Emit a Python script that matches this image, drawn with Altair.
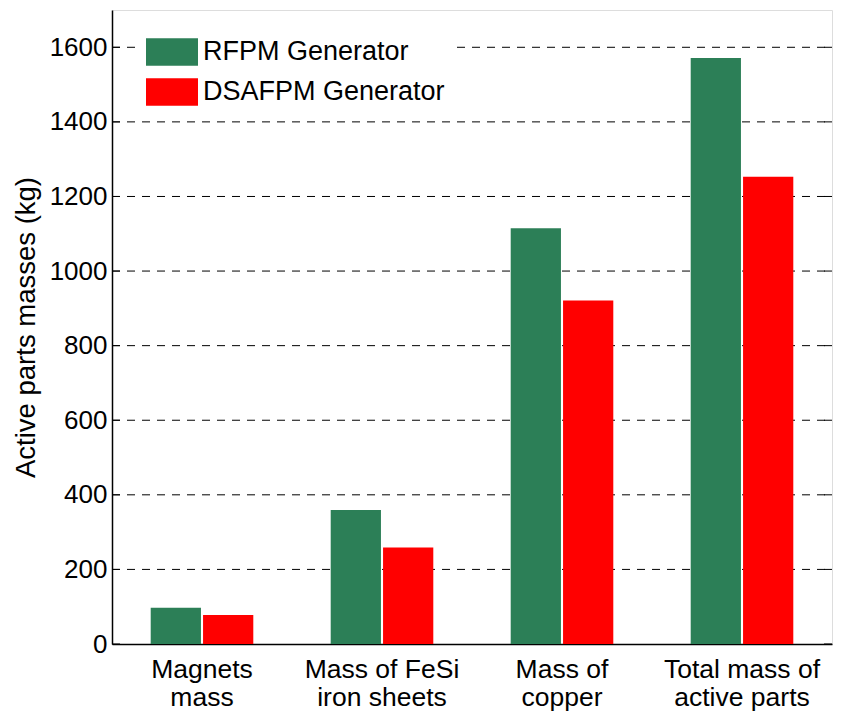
import altair as alt
import pandas as pd

categories = ["Magnets\nmass", "Mass of FeSi\niron sheets", "Mass of\ncopper", "Total mass of\nactive parts"]
series = ["RFPM Generator", "DSAFPM Generator"]
rfpm = [97, 359, 1115, 1571]
dsafpm = [78, 259, 921, 1253]
y_ticks = [0, 200, 400, 600, 800, 1000, 1200, 1400, 1600]
colors = ["#2C7F57", "#FF0000"]

rows = []
for c, a, b in zip(categories, rfpm, dsafpm):
    rows.append({"cat": c, "series": series[0], "val": a})
    rows.append({"cat": c, "series": series[1], "val": b})
df = pd.DataFrame(rows)
ticks_df = pd.DataFrame({"t": y_ticks})

FONT = "Liberation Sans"
W, H = 720, 634
yscale = alt.Scale(domain=[0, 1700], nice=False, zero=True)

bars = alt.Chart(df).mark_bar().encode(
    x=alt.X("cat:N", sort=categories,
            scale=alt.Scale(paddingInner=0.43, paddingOuter=0.215),
            axis=alt.Axis(title=None, labelExpr="split(datum.label, '\\n')",
                          labelAngle=0, labelFontSize=26.5, labelFont=FONT,
                          labelColor="#000", labelLineHeight=28, labelPadding=12,
                          ticks=False, domainColor="#000", domainWidth=1.5)),
    xOffset=alt.XOffset("series:N", sort=series,
                        scale=alt.Scale(paddingInner=0.04, paddingOuter=0)),
    y=alt.Y("val:Q", scale=yscale,
            axis=alt.Axis(title="Active parts masses (kg)", values=y_ticks, format="d",
                          labelFontSize=26, labelFont=FONT, labelColor="#000",
                          titleFontSize=27.5, titleFont=FONT, titleFontWeight="normal",
                          titleColor="#000", titlePadding=9,
                          labelPadding=5, ticks=False,
                          grid=False, domainColor="#000", domainWidth=1.5)),
    color=alt.Color("series:N", sort=series,
                    scale=alt.Scale(domain=series, range=colors),
                    legend=alt.Legend(title=None, orient="none", legendX=24, legendY=6,
                                      fillColor="#fff", padding=10,
                                      symbolType="M-1,-0.53H1V0.53H-1Z",
                                      symbolSize=2704, symbolStrokeWidth=0,
                                      symbolOpacity=1,
                                      labelFontSize=27, labelFont=FONT, labelColor="#000",
                                      labelOffset=5, rowPadding=-7, labelLimit=400)),
)

grid = alt.Chart(ticks_df[ticks_df.t > 0]).mark_rule(
    color="#000", strokeWidth=1, strokeDash=[8, 7]
).encode(y=alt.Y("t:Q", scale=yscale), x=alt.value(0), x2=alt.value(W))

tick_left = alt.Chart(ticks_df).mark_rule(color="#000", strokeWidth=1).encode(
    y=alt.Y("t:Q", scale=yscale), x=alt.value(0), x2=alt.value(8))
tick_right = alt.Chart(ticks_df).mark_rule(color="#000", strokeWidth=1).encode(
    y=alt.Y("t:Q", scale=yscale), x=alt.value(W - 8), x2=alt.value(W))

chart = alt.layer(grid, tick_left, tick_right, bars).properties(
    width=W, height=H,
    autosize=alt.AutoSizeParams(type="none"),
    padding={"left": 104, "top": 2, "right": 2, "bottom": 70},
).configure_view(stroke="#000", strokeWidth=1.5).configure(background="#fff")

chart.save("out.html", embed_options={"renderer": "svg", "actions": False})
